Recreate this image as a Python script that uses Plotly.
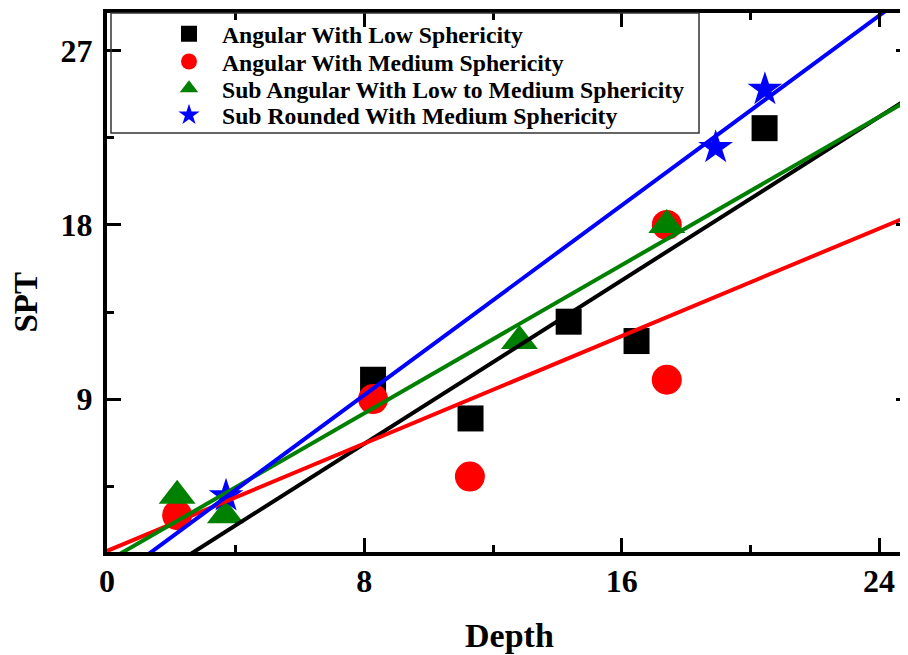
import numpy as np
import plotly.graph_objects as go

# ---- data ----
names = [
    "Angular With Low Sphericity",
    "Angular With Medium Sphericity",
    "Sub Angular With Low to Medium Sphericity",
    "Sub Rounded With Medium Sphericity",
]
depth_low = [8.27, 11.3, 14.35, 16.46, 20.44]
spt_low = [10, 8, 13, 12, 23]
depth_med = [2.18, 8.27, 11.28, 17.4, 17.4]
spt_med = [3, 9, 5, 18, 10]
depth_sub = [2.18, 3.68, 12.82, 17.4]
spt_sub = [4, 3, 12, 18]
depth_rnd = [3.7, 18.92, 20.45]
spt_rnd = [4, 22, 25]

x_ticks = [0, 8, 16, 24]
y_ticks = [9, 18, 27]

colors = ["#000000", "#FF0000", "#008000", "#0000FF"]
symbols = ["square", "circle", "triangle-up", "star"]
sizes = [26, 30, 32, 26]

series = [(depth_low, spt_low), (depth_med, spt_med),
          (depth_sub, spt_sub), (depth_rnd, spt_rnd)]

X_RANGE = [0, 24.96]
Y_RANGE = [1.1, 28.95]

FONT = "Liberation Serif, Times New Roman, serif"

fig = go.Figure()
legend_ids = ["legend", "legend2", "legend3", "legend4"]

for i, (xs, ys) in enumerate(series):
    fig.add_trace(go.Scatter(
        x=xs, y=ys, mode="markers", name=names[i],
        marker=dict(symbol=symbols[i], size=sizes[i], color=colors[i],
                    line=dict(width=0)),
        legend=legend_ids[i], showlegend=True,
    ))

# linear fits
for i, (xs, ys) in enumerate(series):
    k, b = np.polyfit(xs, ys, 1)
    xx = np.array([0, 25.0])
    fig.add_trace(go.Scatter(
        x=xx, y=k * xx + b, mode="lines",
        line=dict(color=colors[i], width=4),
        showlegend=False, hoverinfo="skip",
    ))

# invisible trace to create right-side tick axis
fig.add_trace(go.Scatter(x=[None], y=[None], yaxis="y2", showlegend=False))

OFF = 8  # page body margin offset
W, H = 908, 655
ml, mr, mt, mb = 99, 6, 1, 110.5
pw, ph = W - ml - mr, H - mt - mb
PLOT_BOTTOM = OFF + H - mb


def px2paper_x(px):
    return (px - OFF - ml) / pw


def px2paper_y(py):
    return (PLOT_BOTTOM - py) / ph


tickfont = dict(family=FONT, size=32, color="black", weight="bold")

fig.update_layout(
    width=W, height=H,
    margin=dict(l=ml, r=mr, t=mt, b=mb, pad=0),
    plot_bgcolor="white", paper_bgcolor="white",
    xaxis=dict(
        range=X_RANGE, tickvals=x_ticks, ticktext=[str(v) for v in x_ticks],
        ticks="inside", ticklen=14, tickwidth=3, tickcolor="black",
        showline=True, linewidth=4, linecolor="black", mirror="ticks",
        showgrid=False, zeroline=False, tickfont=tickfont,
        ticklabelstandoff=-2,
        minor=dict(tickvals=[4, 12, 20], ticks="inside", ticklen=7,
                   tickwidth=3, tickcolor="black", showgrid=False),
    ),
    yaxis=dict(
        range=Y_RANGE, tickvals=y_ticks, ticktext=[str(v) for v in y_ticks],
        ticks="inside", ticklen=14, tickwidth=3, tickcolor="black",
        showline=True, linewidth=4, linecolor="black", mirror=False,
        showgrid=False, zeroline=False, tickfont=tickfont,
        ticklabelstandoff=4,
        minor=dict(tickvals=[4.5, 13.5, 22.5], ticks="inside", ticklen=7,
                   tickwidth=3, tickcolor="black", showgrid=False),
    ),
    yaxis2=dict(
        overlaying="y", side="right", range=Y_RANGE, tickvals=y_ticks,
        ticks="inside", ticklen=14, tickwidth=3, tickcolor="black",
        showline=False, showgrid=False, zeroline=False, showticklabels=False,
        minor=dict(tickvals=[4.5, 13.5, 22.5], ticks="inside", ticklen=7,
                   tickwidth=3, tickcolor="black", showgrid=False),
    ),
    shapes=[dict(
        type="rect", xref="paper", yref="paper",
        x0=px2paper_x(111), x1=px2paper_x(699),
        y0=px2paper_y(130), y1=1.0,
        line=dict(color="#333333", width=1.5), fillcolor="rgba(0,0,0,0)",
        layer="above",
    )],
    annotations=[
        dict(text="Depth", xref="paper", yref="paper",
             x=px2paper_x(509), y=px2paper_y(637), showarrow=False,
             xanchor="center", yanchor="middle",
             font=dict(family=FONT, size=34, color="black", weight="bold")),
        dict(text="SPT", xref="paper", yref="paper",
             x=px2paper_x(26), y=px2paper_y(301), showarrow=False,
             textangle=-90, xanchor="center", yanchor="middle",
             font=dict(family=FONT, size=33, color="black", weight="bold")),
    ],
)

row_y = [30, 58, 85, 112]
for i, lid in enumerate(legend_ids):
    fig.update_layout({lid: dict(
        x=px2paper_x(156), y=px2paper_y(row_y[i]),
        xanchor="left", yanchor="middle",
        bgcolor="rgba(0,0,0,0)", borderwidth=0, itemwidth=56,
        font=dict(family=FONT, size=23.7, color="black", weight="bold"),
    )})

fig.write_html("out.html")
